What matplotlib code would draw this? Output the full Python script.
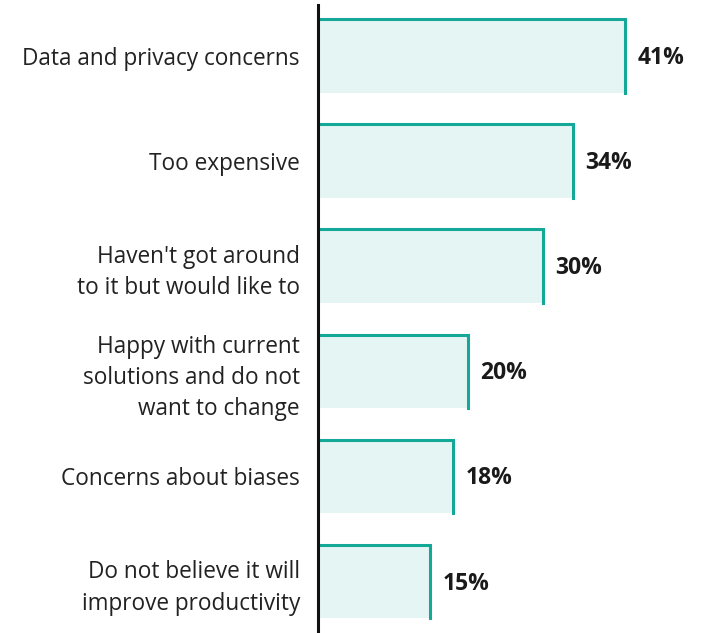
import matplotlib.pyplot as plt
import numpy as np

labels = [
    'Data and privacy concerns',
    'Too expensive',
    "Haven't got around\nto it but would like to",
    'Happy with current\nsolutions and do not\nwant to change',
    'Concerns about biases',
    'Do not believe it will\nimprove productivity',
]
values = [41, 34, 30, 20, 18, 15]

teal = '#14a898'
fill = '#e4f5f3'

plt.rcParams['font.family'] = ['Open Sans', 'DejaVu Sans']

fig = plt.figure(figsize=(7.07, 6.33), dpi=100)
ax = fig.add_axes([318 / 707, 0, 1 - 318 / 707, 1 - 5 / 633])

y = np.arange(len(values))
h = 0.70
ax.barh(y, values, height=h, color=fill, edgecolor='none', zorder=1)

# teal outline along the top and right edge of each bar
for yi, v in zip(y, values):
    ax.plot([0, v, v], [yi - h / 2, yi - h / 2, yi + h / 2],
            color=teal, lw=2.2, solid_joinstyle='miter', zorder=2)
    ax.text(v + 1.7, yi + 0.02, f'{v}%', va='center', ha='left',
            fontsize=16.5, fontweight='bold', color='#1a1a1a')

ax.set_ylim(5.49, -0.485)
ax.set_xlim(0, 51.9)
ax.set_yticks(y)
ax.set_yticklabels(labels, fontsize=16.3, color='#222222', linespacing=1.4)
ax.tick_params(axis='y', length=0, pad=13)
ax.set_xticks([])

for s in ['top', 'right', 'bottom']:
    ax.spines[s].set_visible(False)
ax.spines['left'].set_linewidth(2.2)
ax.spines['left'].set_color('#111111')

fig.savefig('out.png', dpi=100)
